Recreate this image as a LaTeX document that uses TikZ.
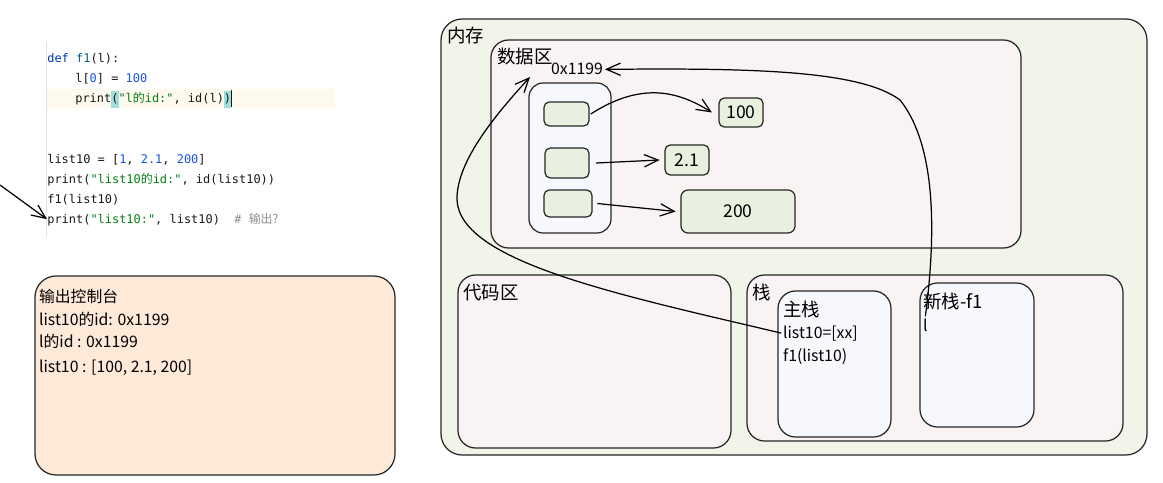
\documentclass[tikz,border=0pt]{standalone}
\usepackage{fontspec}
\newfontfamily\cjk{Noto Sans CJK SC}
\newfontfamily\codefont{DejaVu Sans Mono}
\usetikzlibrary{arrows.meta}
\setlength{\fboxsep}{0pt}

\definecolor{memgreen}{RGB}{240,244,233}
\definecolor{areapink}{RGB}{249,244,243}
\definecolor{frameblue}{RGB}{246,248,253}
\definecolor{cellgreen}{RGB}{234,240,224}
\definecolor{consolepeach}{RGB}{255,234,217}
\definecolor{kwblue}{RGB}{0,51,179}
\definecolor{fnteal}{RGB}{0,98,122}
\definecolor{numblue}{RGB}{23,80,235}
\definecolor{strgreen}{RGB}{6,125,23}
\definecolor{cmtgray}{RGB}{140,140,140}
\definecolor{linehl}{RGB}{253,249,237}
\definecolor{brhl}{RGB}{160,222,222}

\newcommand{\cnum}[1]{\textcolor{numblue}{#1}}
\newcommand{\cstr}[1]{\textcolor{strgreen}{#1}}

\begin{document}
\begin{tikzpicture}[x=0.02cm, y=-0.02cm,
    box/.style 2 args={draw=black!85, line width=0.7pt, anchor=north west,
      inner sep=0pt, outer sep=0pt, minimum width=#1*0.02cm, minimum height=#2*0.02cm},
    code/.style={anchor=base west, inner sep=0pt, text=black!90,
      font=\codefont\fontsize{6.8}{10}\selectfont},
    hand/.style={anchor=base west, inner sep=1pt, font=\cjk\fontsize{9}{11}\selectfont},
    arealabel/.style={hand, font=\cjk\fontsize{10.5}{12}\selectfont},
    value/.style={font=\cjk\fontsize{10}{12}\selectfont},
    ref/.style={line width=0.7pt, -{Straight Barb[length=8pt,width=7pt]}}]
    \useasboundingbox (0,0) rectangle (1163,483);

    % Code (editor)
    \fill[linehl] (46,89) rectangle (335,108);
    \draw[black!12] (46,42) -- (46,236);
    \node[code] (l1) at (47,63) {\textcolor{kwblue}{def} \textcolor{fnteal}{f1}(l):};
    \node[code] (l2) at (75,83) {l[\cnum{0}] = \cnum{100}};
    \node[code] (l3) at (75,103) {print\colorbox{brhl}{\strut(}\cstr{"l{\cjk 的}id:"}, id(l)\colorbox{brhl}{\strut)}\rule[-2.5pt]{0.5pt}{10pt}};
    \node[code] (l4) at (47,163) {list10 = [\cnum{1}, \cnum{2.1}, \cnum{200}]};
    \node[code] (l5) at (47,183) {print(\cstr{"list10{\cjk 的}id:"}, id(list10))};
    \node[code] (l6) at (47,203) {f1(list10)};
    \node[code] (l7) at (47,223) {print(\cstr{"list10:"}, list10)\ \ \textcolor{cmtgray}{\itshape\#\ {\cjk 输出?}}};

    \coordinate (pointer) at (0,185);
    \draw[ref] (pointer) -- (l7.west);

    % Console
    \node[box={360}{199}, fill=consolepeach, rounded corners=12pt] (console) at (35,276) {};
    \node[hand] (out0) at (37,302) {输出控制台};
    \node[hand] (out1) at (37,325) {list10的id: 0x1199};
    \node[hand] (out2) at (37,347) {l的id : 0x1199};
    \node[hand] (out3) at (37,372) {list10 : [100, 2.1, 200]};

    % Memory
    \node[box={706}{436}, fill=memgreen, rounded corners=12pt] (mem) at (441,19) {};
    \node[arealabel] (memlabel) at (445,43) {内存};

    % Data area
    \node[box={530}{208}, fill=areapink, rounded corners=10pt] (data) at (491,40) {};
    \node[arealabel] (datalabel) at (495,64) {数据区};
    \node[hand] (addr) at (549,75) {0x1199};
    \coordinate (addrin) at (530,77);

    % List object and its slots
    \node[box={82}{150}, fill=frameblue, rounded corners=8pt] (list) at (529,83) {};
    \node[box={45}{24}, fill=cellgreen, rounded corners=3pt] (slot1) at (544,102) {};
    \node[box={44}{30}, fill=cellgreen, rounded corners=3pt] (slot2) at (545,148) {};
    \node[box={48}{27}, fill=cellgreen, rounded corners=3pt] (slot3) at (544,190) {};

    % Values
    \node[box={44}{29}, fill=cellgreen, rounded corners=3pt, value] (v100) at (719,98) {100};
    \node[box={44}{30}, fill=cellgreen, rounded corners=3pt, value] (v21) at (665,145) {2.1};
    \node[box={114}{43}, fill=cellgreen, rounded corners=4pt, value] (v200) at (681,190) {200};

    \draw[ref] ([xshift=1pt]slot1.east) .. controls +(50,-32) and +(-35,-22) .. ([xshift=-4pt]v100.west);
    \draw[ref] ([xshift=4pt]slot2.east) -- ([xshift=-3pt]v21.west);
    \draw[ref] ([xshift=3pt]slot3.east) -- ([xshift=-3pt]v200.west);

    % Code area
    \node[box={273}{173}, fill=areapink, rounded corners=10pt] (codearea) at (458,275) {};
    \node[arealabel] (codelabel) at (461,299) {代码区};

    % Stack
    \node[box={376}{166}, fill=areapink, rounded corners=10pt] (stack) at (747,275) {};
    \node[arealabel] (stacklabel) at (750,299) {栈};
    \node[box={113}{146}, fill=frameblue, rounded corners=10pt] (mainframe) at (778,291) {};
    \node[arealabel] (mainlabel) at (781,316) {主栈};
    \node[hand] (lref) at (781,338) {list10=[xx]};
    \node[hand] (call) at (781,361) {f1(list10)};
    \node[box={114}{144}, fill=frameblue, rounded corners=10pt] (newframe) at (920,283) {};
    \node[arealabel] (newlabel) at (921,308) {新栈-f1};
    \node[hand] (lvar) at (921,331) {l};

    % References to the list
    \draw[ref] (lref.west) .. controls (620,295) and (460,262) .. (457,200)
      .. controls (456,160) and (500,110) .. (addrin);
    \draw[ref] (lvar.north) .. controls (934,250) and (940,150) .. (900,100)
      .. controls (860,70) and (750,68) .. (addr.east);
\end{tikzpicture}
\end{document}
